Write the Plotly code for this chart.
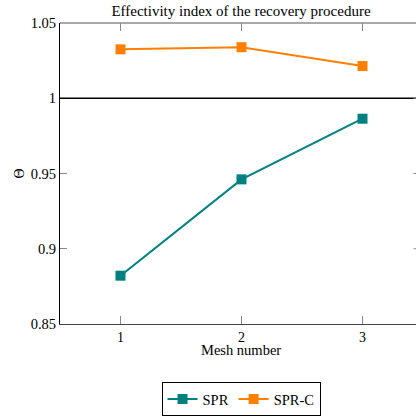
import plotly.graph_objects as go

mesh = [1, 2, 3]
spr = [0.8821, 0.9461, 0.9864]
spr_c = [1.0325, 1.0339, 1.0214]
x_ticks = [1, 2, 3]
y_ticks = [0.85, 0.9, 0.95, 1.0, 1.05]
y_tick_text = ["0.85", "0.9", "0.95", "1", "1.05"]

W, H = 416, 417
ML, MT, MB, MR = 60, 23, 93, 0
font = "'Liberation Serif', 'Times New Roman', Times, serif"
PW = W - ML - MR
PH = H - MT - MB

fig = go.Figure()
fig.add_trace(go.Scatter(x=mesh, y=spr, name="SPR", mode="lines+markers",
                         line=dict(color="#008080", width=2),
                         marker=dict(symbol="square", size=10, color="#008080")))
fig.add_trace(go.Scatter(x=mesh, y=spr_c, name="SPR-C", mode="lines+markers",
                         line=dict(color="#ff8000", width=2),
                         marker=dict(symbol="square", size=10, color="#ff8000")))

# hide the right plot-edge artefact
fig.add_shape(type="line", xref="paper", yref="paper", x0=1, x1=1, y0=0.003, y1=0.997,
              line=dict(color="white", width=4))
# reference line at 1
fig.add_shape(type="line", xref="paper", yref="y", x0=0, x1=1, y0=1, y1=1,
              line=dict(color="black", width=1.6))
# top frame line
fig.add_shape(type="line", xref="paper", yref="paper", x0=0, x1=1, y0=1, y1=1,
              line=dict(color="#555", width=1))
# mirrored top ticks
for xv in x_ticks:
    fig.add_shape(type="line", xref="x", yref="paper", x0=xv, x1=xv, y0=1, y1=1 - 8 / PH,
                  line=dict(color="#888", width=1))
# right tick stubs (right axis lies just beyond the visible area)
for yv in y_ticks[1:-1]:
    fig.add_shape(type="line", xref="paper", yref="y", x0=1 - 2.5 / PW, x1=1, y0=yv, y1=yv,
                  line=dict(color="#888", width=1))

fig.add_annotation(text="Θ", xref="paper", yref="paper", x=(19 - ML) / PW, y=0.5,
                   xanchor="center", yanchor="middle",
                   showarrow=False, textangle=-90, font=dict(size=14, color="black", family=font))
fig.add_annotation(text="Mesh number", xref="paper", yref="paper", x=(241 - ML) / PW,
                   y=(324 - 350) / PH, xanchor="center", yanchor="middle",
                   showarrow=False, font=dict(size=14.5, color="black", family=font))

fig.update_layout(
    width=W, height=H,
    margin=dict(l=ML, r=MR, t=MT, b=MB, pad=0, autoexpand=False),
    paper_bgcolor="white", plot_bgcolor="white",
    font=dict(family=font, size=14, color="black"),
    title=dict(text="Effectivity index of the recovery procedure", x=241 / W, xanchor="center",
               y=1 - 11 / H, yanchor="middle", font=dict(size=15, family=font)),
    showlegend=True,
    legend=dict(orientation="h", x=(241 - ML) / PW, xanchor="center",
                y=(324 - 382) / PH, yanchor="top", bordercolor="black", borderwidth=1,
                font=dict(size=14.5, family=font), itemwidth=30, tracegroupgap=0),
    xaxis=dict(range=[0.5, 0.5 + PW / 121.0], tickvals=x_ticks, ticktext=[str(v) for v in x_ticks],
               showgrid=False, zeroline=False, showline=True, linecolor="#444", linewidth=1,
               mirror=False, ticks="inside", ticklen=8, tickcolor="#888", automargin=False,
               tickfont=dict(family=font, size=14)),
    yaxis=dict(range=[0.85, 1.05], tickvals=y_ticks, ticktext=y_tick_text,
               showgrid=False, zeroline=False, showline=True, linecolor="black", linewidth=1,
               mirror=False, ticks="inside", ticklen=7, tickcolor="#888", automargin=False,
               tickfont=dict(family=font, size=14.5)),
)

fig.write_html("out.html")
